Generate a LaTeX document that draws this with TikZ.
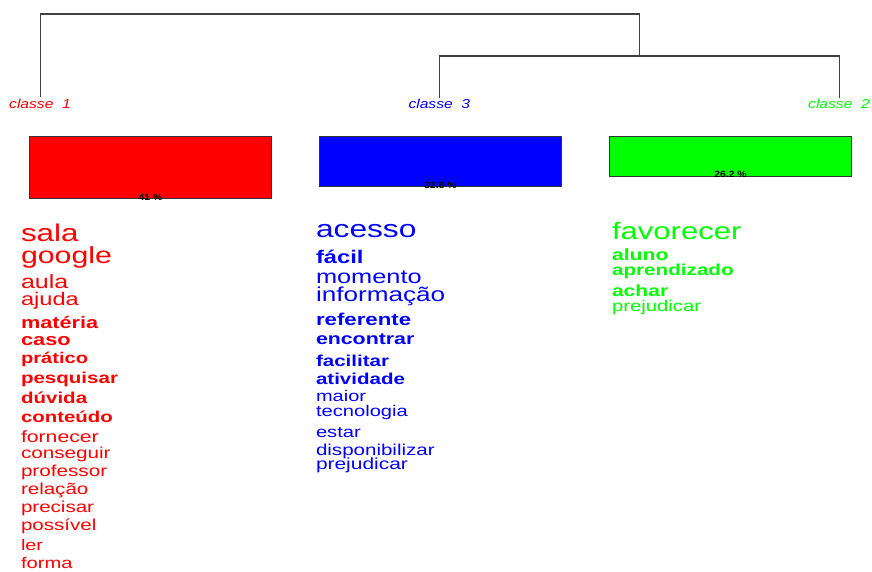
\documentclass[tikz,border=0pt]{standalone}
\usepackage{fontspec}
\newfontfamily\wordfont[FakeStretch=1.3]{Liberation Sans}
\newfontfamily\labfont[FakeStretch=1.2]{Liberation Sans}
\newfontfamily\pctfont[FakeStretch=1.15]{Liberation Sans}
\definecolor{cred}{HTML}{FF0000}
\definecolor{cblue}{HTML}{0000FF}
\definecolor{cgreen}{HTML}{00FF00}
\definecolor{dendro}{HTML}{404040}
\begin{document}
\begin{tikzpicture}[x=1pt,y=-1pt,
  w/.style={anchor=base west, inner sep=0pt, outer sep=0pt},
  wr/.style={w, font=\wordfont\fontsize{#1}{#1}\selectfont},
  wb/.style={w, font=\wordfont\bfseries\fontsize{#1}{#1}\selectfont},
  clab/.style={anchor=base, inner sep=0pt, font=\labfont\itshape\fontsize{13}{13}\selectfont},
  bar/.style={draw=black!80, line width=1pt, anchor=north west, inner sep=0pt, minimum width=242pt},
  pct/.style={anchor=base, inner sep=0pt, font=\pctfont\bfseries\fontsize{9}{9}\selectfont, text=black},
  dline/.style={draw=dendro, line width=1.6pt}
]
\useasboundingbox (0,0) rectangle (872,571);

% class labels
\node[clab, text=cred]   (c1) at (40,108)  {classe\ \ 1};
\node[clab, text=cblue]  (c3) at (439.3,108) {classe\ \ 3};
\node[clab, text=cgreen] (c2) at (839,108) {classe\ \ 2};

% dendrogram
\coordinate (e1) at (40.5,97);
\coordinate (e3) at (439.3,97.5);
\coordinate (e2) at (839.3,98);
\coordinate (root) at (639.3,13.7);
\coordinate (j23) at (639.3,55.7);
\draw[dline] (e1) |- (root) -- (j23);
\draw[dline] (e3) |- (j23) -| (e2);

% bars
\node[bar, fill=cred,   minimum height=62.5pt] (b1) at (29,135.8) {};
\node[bar, fill=cblue,  minimum height=50pt]   (b3) at (319,136) {};
\node[bar, fill=cgreen, minimum height=39.7pt] (b2) at (609,136) {};
\node[pct] (p1) at ([yshift=-1pt]b1.south) {41 \%};
\node[pct] (p3) at ([yshift=-1pt]b3.south) {32.8 \%};
\node[pct] (p2) at ([yshift=-1pt]b2.south) {26.2 \%};

% class 1 words
\begin{scope}[text=cred]
\node[wr=24.2] (r1)  at (21,241)   {sala};
\node[wr=23.3] (r2)  at (21,263)   {google};
\node[wr=19.2] (r3)  at (21,288)   {aula};
\node[wr=18.2] (r4)  at (21,305)   {ajuda};
\node[wb=16.7] (r5)  at (21,328)   {matéria};
\node[wb=16.8] (r6)  at (21,345.5) {caso};
\node[wb=15.5] (r7)  at (21,363)   {prático};
\node[wb=15.8] (r8)  at (21,383)   {pesquisar};
\node[wb=15.8] (r9)  at (21,403)   {dúvida};
\node[wb=15.7] (r10) at (21,422.5) {conteúdo};
\node[wr=16.3] (r11) at (21,442)   {fornecer};
\node[wr=15.9] (r12) at (21,458)   {conseguir};
\node[wr=15.9] (r13) at (21,476.5) {professor};
\node[wr=15.8] (r14) at (21,494)   {relação};
\node[wr=15.8] (r15) at (21,512)   {precisar};
\node[wr=15.8] (r16) at (21,530)   {possível};
\node[wr=15.3] (r17) at (21,550.5) {ler};
\node[wr=15.5] (r18) at (21,568.5) {forma};
\end{scope}

% class 3 words
\begin{scope}[text=cblue]
\node[wr=24.4] (u1)  at (316,237.3) {acesso};
\node[wb=18.3] (u2)  at (316,263.3) {fácil};
\node[wr=19.5] (u3)  at (316,283.3) {momento};
\node[wr=20.1] (u4)  at (316,301.7) {informação};
\node[wb=17.1] (u5)  at (316,325)   {referente};
\node[wb=16.4] (u6)  at (316,344.3) {encontrar};
\node[wb=15.8] (u7)  at (316,366)   {facilitar};
\node[wb=15.8] (u8)  at (316,384)   {atividade};
\node[wr=15.4] (u9)  at (316,401.7) {maior};
\node[wr=15.5] (u10) at (316,416)   {tecnologia};
\node[wr=15.5] (u11) at (316,437.7) {estar};
\node[wr=15.8] (u12) at (316,455)   {disponibilizar};
\node[wr=16.1] (u13) at (316,469.5) {prejudicar};
\end{scope}

% class 2 words
\begin{scope}[text=cgreen]
\node[wr=23.9] (g1) at (612,239.3) {favorecer};
\node[wb=16.3] (g2) at (612,260.7) {aluno};
\node[wb=15.9] (g3) at (612,275)   {aprendizado};
\node[wb=16.2] (g4) at (612,296)   {achar};
\node[wr=15.6] (g5) at (612,311.5) {prejudicar};
\end{scope}
\end{tikzpicture}
\end{document}
